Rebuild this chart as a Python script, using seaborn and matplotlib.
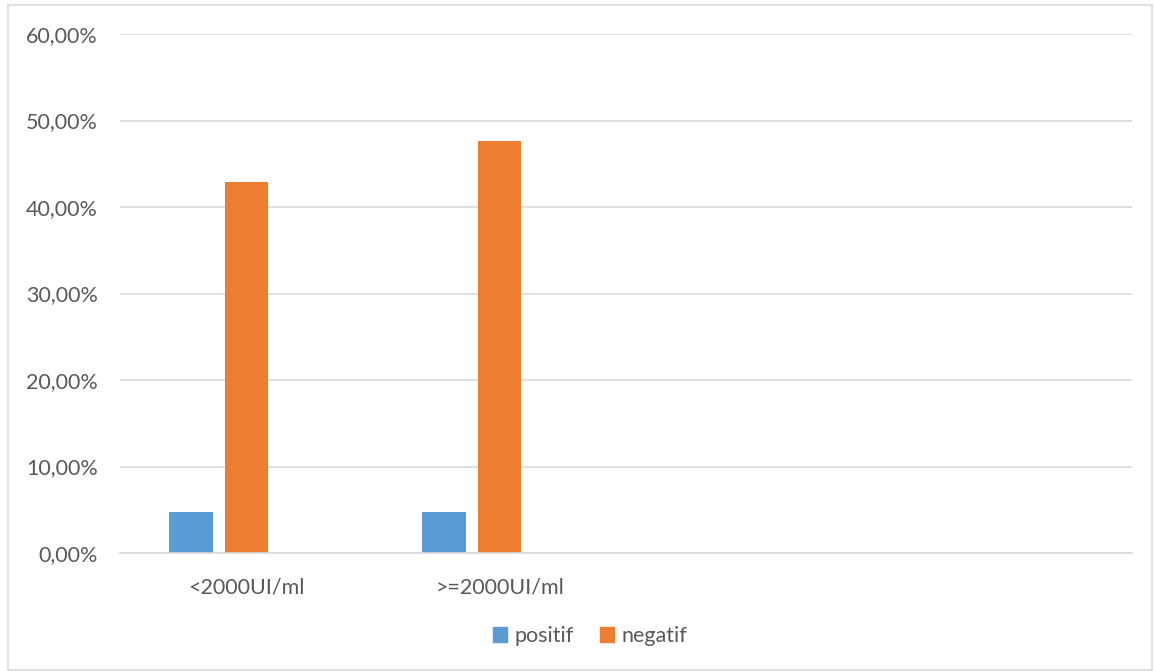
import matplotlib
matplotlib.use("Agg")
import matplotlib.pyplot as plt
import matplotlib.patches as mpatches
from matplotlib.ticker import FuncFormatter, MultipleLocator
import seaborn as sns
import pandas as pd

# Share of patients by viral load group and test result (%)
categories = ["<2000UI/ml", ">=2000UI/ml", " ", "  "]
positif = [4.76, 4.76]
negatif = [42.86, 47.62]
extra = [0.0, 0.0]  # third (unnamed) series, empty
series_names = ["positif", "negatif", "serie3"]

rows = []
for cat, p, n, e in zip(categories[:2], positif, negatif, extra):
    rows.append({"cat": cat, "serie": "positif", "val": p})
    rows.append({"cat": cat, "serie": "negatif", "val": n})
    rows.append({"cat": cat, "serie": "serie3", "val": e})
df = pd.DataFrame(rows)

BLUE = "#5B9BD5"
ORANGE = "#ED7D31"
TEXT = "#595959"
GRID = "#D9D9D9"
FS = 15.5

sns.set_theme(style="white")
plt.rcParams["font.family"] = ["Lato", "DejaVu Sans"]

fig = plt.figure(figsize=(11.54, 6.71), dpi=100)
ax = fig.add_axes([120 / 1154, 1 - 553 / 671, (1132 - 120) / 1154, (553 - 34) / 671])

sns.barplot(data=df, x="cat", y="val", hue="serie", order=categories,
            hue_order=series_names,
            palette={"positif": BLUE, "negatif": ORANGE, "serie3": "#A5A5A5"},
            width=0.657, gap=0.21, ax=ax, legend=False, linewidth=0,
            saturation=1, errorbar=None)

ax.set_ylim(0, 60)
ax.set_xlim(-0.5, 3.5)
ax.yaxis.set_major_locator(MultipleLocator(10))
ax.yaxis.set_major_formatter(FuncFormatter(lambda v, _: f"{v:.2f}".replace(".", ",") + "%"))
ax.grid(axis="y", color=GRID, linewidth=1.2)
ax.set_axisbelow(True)
for s in ["top", "right", "left"]:
    ax.spines[s].set_visible(False)
ax.spines["bottom"].set_color(GRID)
ax.spines["bottom"].set_linewidth(1.2)
ax.set_xlabel("")
ax.set_ylabel("")
ax.tick_params(axis="y", length=0, pad=16, labelsize=FS, labelcolor=TEXT)
ax.tick_params(axis="x", length=0, pad=18, labelsize=FS, labelcolor=TEXT)

handles = [mpatches.Patch(color=BLUE, label="positif"),
           mpatches.Patch(color=ORANGE, label="negatif")]
fig.legend(handles=handles, loc="center", bbox_to_anchor=(590 / 1154, 1 - 636 / 671),
           ncol=2, frameon=False, fontsize=FS, labelcolor=TEXT,
           handlelength=0.65, handleheight=0.65, handletextpad=0.35, columnspacing=1.2)

# chart frame
fig.patches.append(mpatches.Rectangle((8 / 1154, 1 / 671), 1144 / 1154, 665 / 671,
                                      transform=fig.transFigure, fill=False,
                                      edgecolor=GRID, linewidth=1.2))

fig.savefig("out.png", dpi=100, facecolor="white")
